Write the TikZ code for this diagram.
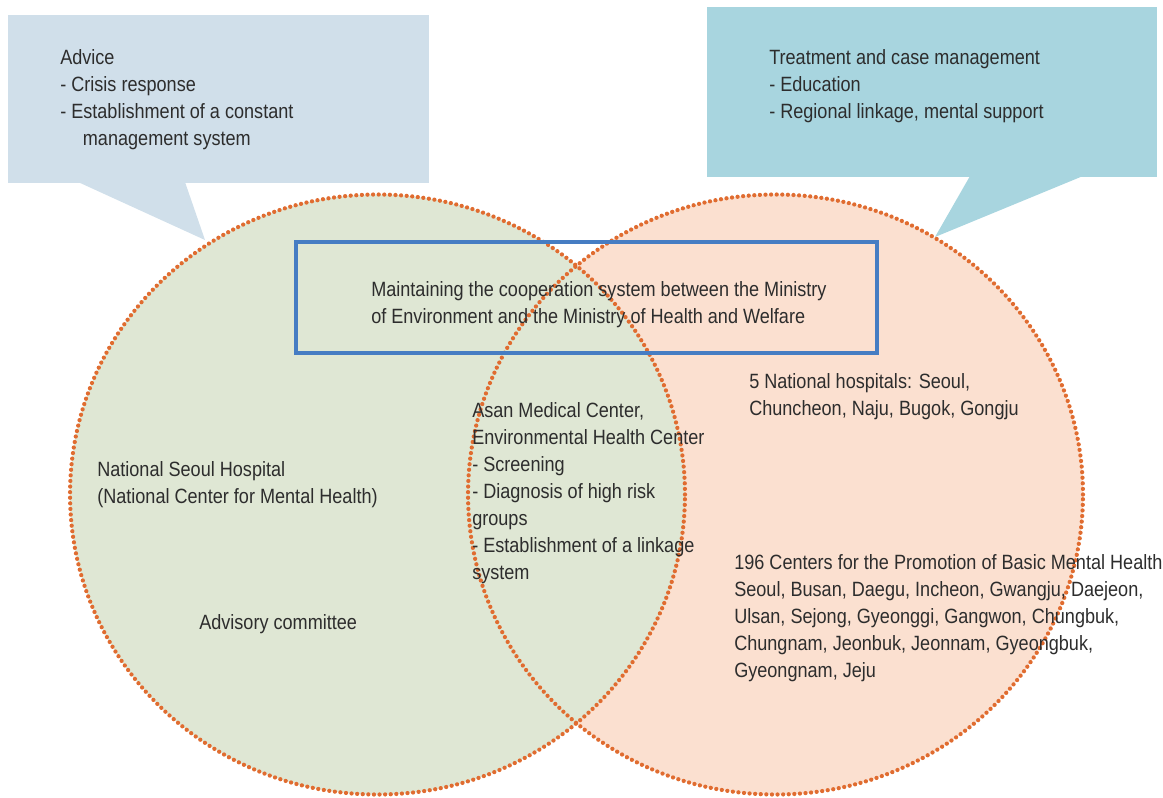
\documentclass[tikz,border=0pt]{standalone}
\usepackage{fontspec}
\setmainfont{Liberation Sans}[FakeStretch=0.875]
\usetikzlibrary{positioning}

\definecolor{advicebg}{RGB}{208,223,234}
\definecolor{treatbg}{RGB}{168,213,223}
\definecolor{envgreen}{RGB}{223,231,212}
\definecolor{healthpeach}{RGB}{251,224,208}
\definecolor{dotorange}{RGB}{224,108,48}
\definecolor{coopblue}{RGB}{70,125,195}
\definecolor{inktext}{RGB}{45,45,45}

\tikzset{
  lbl/.style={anchor=north west, inner sep=0pt, align=left, text=inktext,
    font=\fontsize{15.5}{20.25}\selectfont},
  dotline/.style={draw=dotorange, line width=3.2pt, line cap=round,
    dash pattern=on 0pt off 4.2pt},
  coopbox/.style={draw=coopblue, line width=3pt, minimum width=435.75pt,
    minimum height=83.25pt, inner sep=0pt},
}

\begin{document}
\begin{tikzpicture}[x=0.75pt, y=-0.75pt]
    \useasboundingbox (0,0) rectangle (1163,797);

    % Speech bubbles on top
    \fill[advicebg] (8,15) rectangle (429,183);
    \fill[advicebg] (78,182) -- (205,240) -- (185,182) -- cycle;
    \fill[treatbg] (707,7) rectangle (1157,177);
    \fill[treatbg] (970,176) -- (935,237) -- (1083,176) -- cycle;

    % The two overlapping circles (green one lies over the peach one)
    \fill[healthpeach] (775.5,494.5) ellipse [x radius=230.6pt, y radius=225pt];
    \fill[envgreen] (377.5,494.5) ellipse [x radius=230.6pt, y radius=225pt];
    \foreach \cx in {377.5, 775.5}
        \draw[dotline] (\cx,494.5) ellipse [x radius=230.6pt, y radius=225pt];

    % Cooperation frame
    \node[coopbox] (coop) at (586.5,297.5) {};

    \node[lbl] (advice) at (60,49) {Advice\\- Crisis response\\- Establishment of a constant\\\hspace*{17pt}management system};
    \node[lbl] (treat) at (769,49) {Treatment and case management\\- Education\\- Regional linkage, mental support};
    \node[lbl] (cooptxt) at (371,281) {Maintaining the cooperation system between the Ministry\\of Environment and the Ministry of Health and Welfare};
    \node[lbl] (natl) at (749,373) {5 National hospitals: Seoul,\\Chuncheon, Naju, Bugok, Gongju};
    \node[lbl] (asan) at (472,402) {Asan Medical Center,\\Environmental Health Center\\- Screening\\- Diagnosis of high risk\\groups\\- Establishment of a linkage\\system};
    \node[lbl] (seoul) at (97,461) {National Seoul Hospital\\(National Center for Mental Health)};
    \node[lbl] (advisory) at (199,614) {Advisory committee};
    \node[lbl] (centers) at (734,554) {196 Centers for the Promotion of Basic Mental Health\\Seoul, Busan, Daegu, Incheon, Gwangju, Daejeon,\\Ulsan, Sejong, Gyeonggi, Gangwon, Chungbuk,\\Chungnam, Jeonbuk, Jeonnam, Gyeongbuk,\\Gyeongnam, Jeju};
\end{tikzpicture}
\end{document}
